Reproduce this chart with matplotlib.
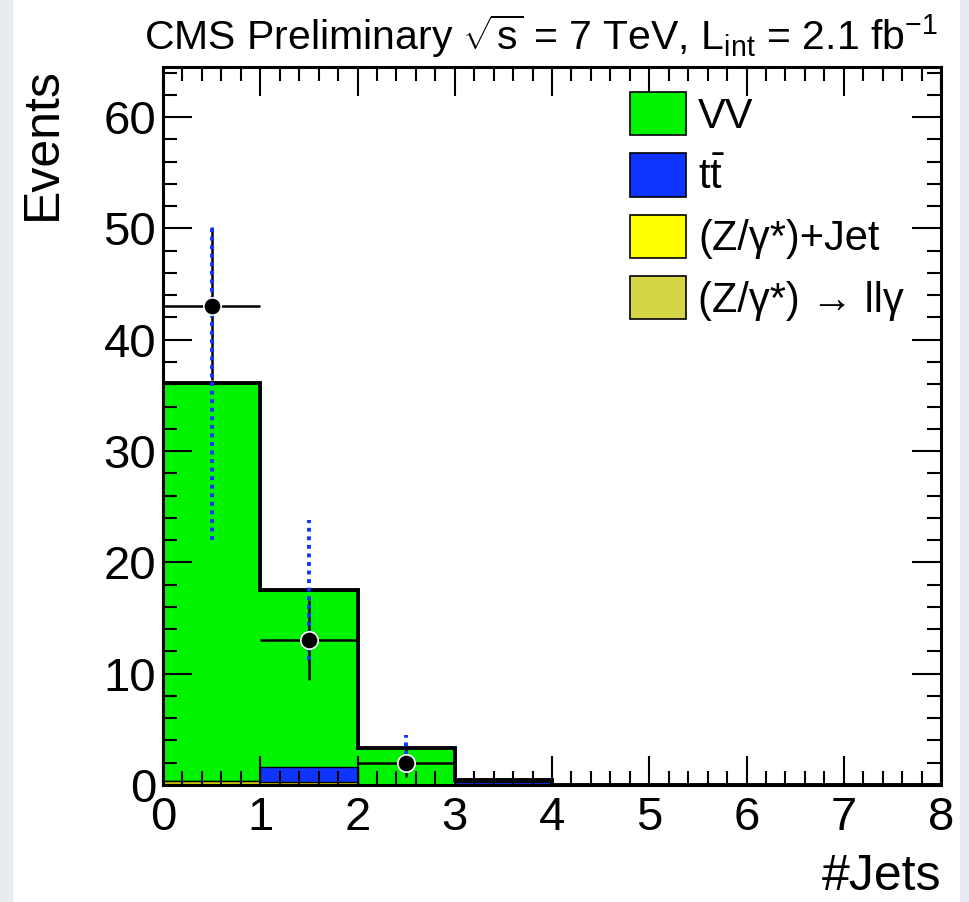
import matplotlib.pyplot as plt
import numpy as np
from matplotlib.patches import Patch, Rectangle

plt.rcParams['font.family'] = ['Liberation Sans', 'DejaVu Sans']
plt.rcParams['mathtext.fontset'] = 'custom'
plt.rcParams['mathtext.rm'] = 'Liberation Sans'
plt.rcParams['mathtext.it'] = 'Liberation Sans'

# bin edges (#Jets) and stacked MC contributions, bottom to top
edges = np.arange(0, 9)
zllg = [0.05, 0.05, 0.0, 0.0, 0.0, 0.0, 0.0, 0.0]
zjet = [0.3, 0.2, 0.0, 0.0, 0.0, 0.0, 0.0, 0.0]
ttbar = [0.0, 1.4, 0.0, 0.3, 0.0, 0.0, 0.0, 0.0]
vv = [35.8, 15.9, 3.35, 0.15, 0.0, 0.0, 0.0, 0.0]

# data points
data_x = [0.5, 1.5, 2.5]
data_y = [43, 13, 2]
data_lo = [36.4, 9.4, 0.7]
data_hi = [50.1, 16.6, 3.6]
# blue dotted uncertainty lines
unc_lo = [22.0, 11.2, 1.2]
unc_hi = [50.0, 23.8, 4.5]

labels = ['VV', r'$\mathrm{t\bar{t}}$', '(Z/γ*)+Jet', '(Z/γ*) → llγ']
colors = ['#00f400', '#1034ff', '#ffff00', '#d6d545']

fig = plt.figure(figsize=(9.69, 9.02), dpi=100)
# light side strips like the reference
fig.patches.append(Rectangle((0, 0), 12 / 969, 1, transform=fig.transFigure,
                             color='#e7ebf2', zorder=0))
fig.patches.append(Rectangle((960 / 969, 0), 9 / 969, 1, transform=fig.transFigure,
                             color='#e7ebf2', zorder=0))

ax = fig.add_axes([163 / 969, 117 / 902, 778 / 969, 718 / 902])

base = np.zeros(len(vv))
for vals, col in zip([zllg, zjet, ttbar, vv], colors[::-1]):
    vals = np.array(vals)
    ax.stairs(base + vals, edges, baseline=base, fill=True, color=col, zorder=1)
    ax.stairs(base + vals, edges, baseline=None, color='black', lw=1.0, zorder=2)
    base = base + vals
ax.stairs(base, edges, baseline=0, color='black', lw=2.8, zorder=3)

# data with error bars
yerr = [np.array(data_y) - np.array(data_lo), np.array(data_hi) - np.array(data_y)]
ax.errorbar(data_x, data_y, xerr=0.5, yerr=yerr, fmt='none', ecolor='black',
            elinewidth=1.8, capsize=0, zorder=4)
ax.vlines(data_x, unc_lo, unc_hi, colors='#1034ff', linestyles=(0, (1, 1.2)),
          lw=2.8, zorder=5)
ax.plot(data_x, data_y, 'o', color='black', markersize=12.5, markeredgecolor='white',
        markeredgewidth=1.2, zorder=6)

ax.set_xlim(0, 8)
ax.set_ylim(0, 64.5)
ax.set_xticks(range(0, 9))
ax.set_yticks(range(0, 61, 10))
ax.set_xticks(np.arange(0, 8.01, 0.2), minor=True)
ax.set_yticks(np.arange(0, 64.5, 2), minor=True)
ax.tick_params(which='both', direction='in', top=True, right=True, width=1.5,
               labelsize=34)
ax.tick_params(axis='x', pad=8)
ax.tick_params(axis='y', pad=5)
ax.tick_params(which='major', length=21)
ax.tick_params(which='minor', length=10)
for s in ax.spines.values():
    s.set_linewidth(2.2)

ax.set_ylabel('Events', fontsize=36, loc='top', labelpad=27)
ax.set_xlabel('#Jets', fontsize=36, loc='right', labelpad=10)

fig.text(938 / 969, (902 - 50) / 902,
         r'CMS Preliminary $\sqrt{s}$ = 7 TeV, L$_{\rm int}$ = 2.1 fb$^{-1}$',
         fontsize=29.5, ha='right', va='baseline')

handles = [Patch(facecolor=c, edgecolor='black', lw=1.2) for c in colors]
ax.legend(handles, labels, loc='upper left', bbox_to_anchor=(0.6, 0.965),
          frameon=False, fontsize=30, handlelength=1.34, handleheight=1.22,
          handletextpad=0.3, labelspacing=0.4, borderpad=0, borderaxespad=0)

fig.savefig('out.png', dpi=100)
